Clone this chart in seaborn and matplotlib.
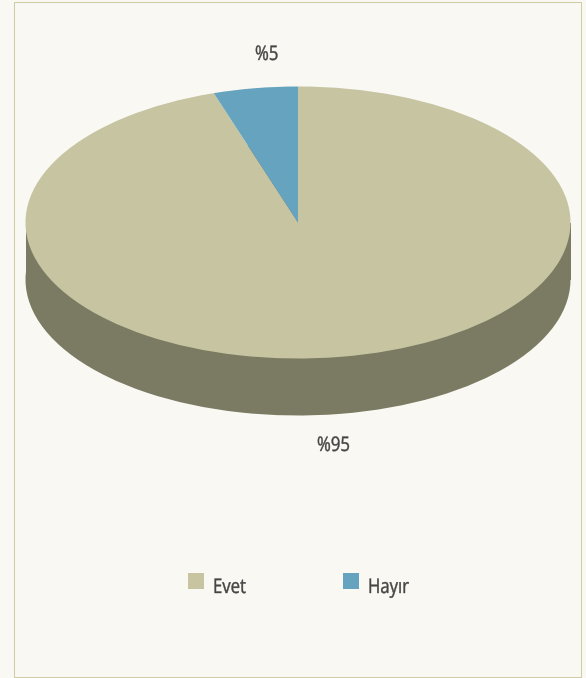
import matplotlib.pyplot as plt
import matplotlib.patheffects as pe
import seaborn as sns
from matplotlib.patches import Rectangle
from matplotlib.transforms import Affine2D

categories = ["Evet", "Hayır"]
values = [95, 5]

W, H = 586, 678
CX, CY = 298, 222.5   # ellipse centre in pixels
RX, RY = 272.5, 136
DEPTH = 57 / RY

BG = "#F9F8F3"
FRAME = "#CFCCA6"
TEXT = "#454545"
colors = ["#C6C4A1", "#65A3BE"]
side_color = "#7A7B62"

sns.set_theme(style="white")
plt.rcParams["font.family"] = ["Open Sans", "DejaVu Sans"]


class Condensed(pe.AbstractPathEffect):
    # no condensed family installed, so squeeze the glyphs sideways
    def __init__(self, sx, stroke=0.3):
        super().__init__()
        self.sx = sx
        self.stroke = stroke

    def draw_path(self, renderer, gc, tpath, affine, rgbFace=None):
        gc0 = renderer.new_gc()
        gc0.copy_properties(gc)
        gc0.set_linewidth(self.stroke)
        gc0.set_foreground(rgbFace)
        renderer.draw_path(gc0, tpath, Affine2D().scale(self.sx, 1) + affine, rgbFace)
        gc0.restore()


def px(x, y):
    # figure fractions from picture pixels
    return x / W, 1 - y / H


def label(x, y, s):
    fx, fy = px(x, y)
    fig.text(fx, fy, s, ha="left", va="baseline", fontsize=14.5, color=TEXT,
             path_effects=[Condensed(0.83)])


fig = plt.figure(figsize=(W / 100, H / 100), dpi=100, facecolor=BG)
ax = fig.add_axes([0, 0, 1, 1])

# side of the disc, then the top
edge = {"linewidth": 0, "edgecolor": "none"}
ax.pie(values, colors=[side_color] * len(values), center=(0, -DEPTH), radius=1,
       startangle=90, counterclock=False, frame=False, wedgeprops=edge)
ax.fill_between([-1, 1], -DEPTH, 0, color=side_color, lw=0)
wedges, _ = ax.pie(values, colors=colors, center=(0, 0), radius=1,
                   startangle=90, counterclock=False, frame=False, wedgeprops=edge)

# one unit maps to RX px across and RY px down, so the disc turns into an ellipse
ax.set_aspect("auto")
ax.set_xlim(-CX / RX, (W - CX) / RX)
ax.set_ylim((CY - H) / RY, CY / RY)
ax.set_axis_off()

fig.add_artist(Rectangle(px(14, 677), 567 / W, 675 / H, transform=fig.transFigure,
                         fill=False, ec=FRAME, lw=0.75))

# value labels
label_pos = [(317, 451), (255, 60)]
for v, (x, y) in zip(values, label_pos):
    label(x, y, f"%{v}")

# legend
legend_x = [188, 343]
for name, c, x in zip(categories, colors, legend_x):
    fig.add_artist(Rectangle(px(x, 589), 16 / W, 16 / H, transform=fig.transFigure,
                             fc=c, ec="none"))
    label(x + 25, 593, name)

fig.savefig("out.png", dpi=100, facecolor=BG)
